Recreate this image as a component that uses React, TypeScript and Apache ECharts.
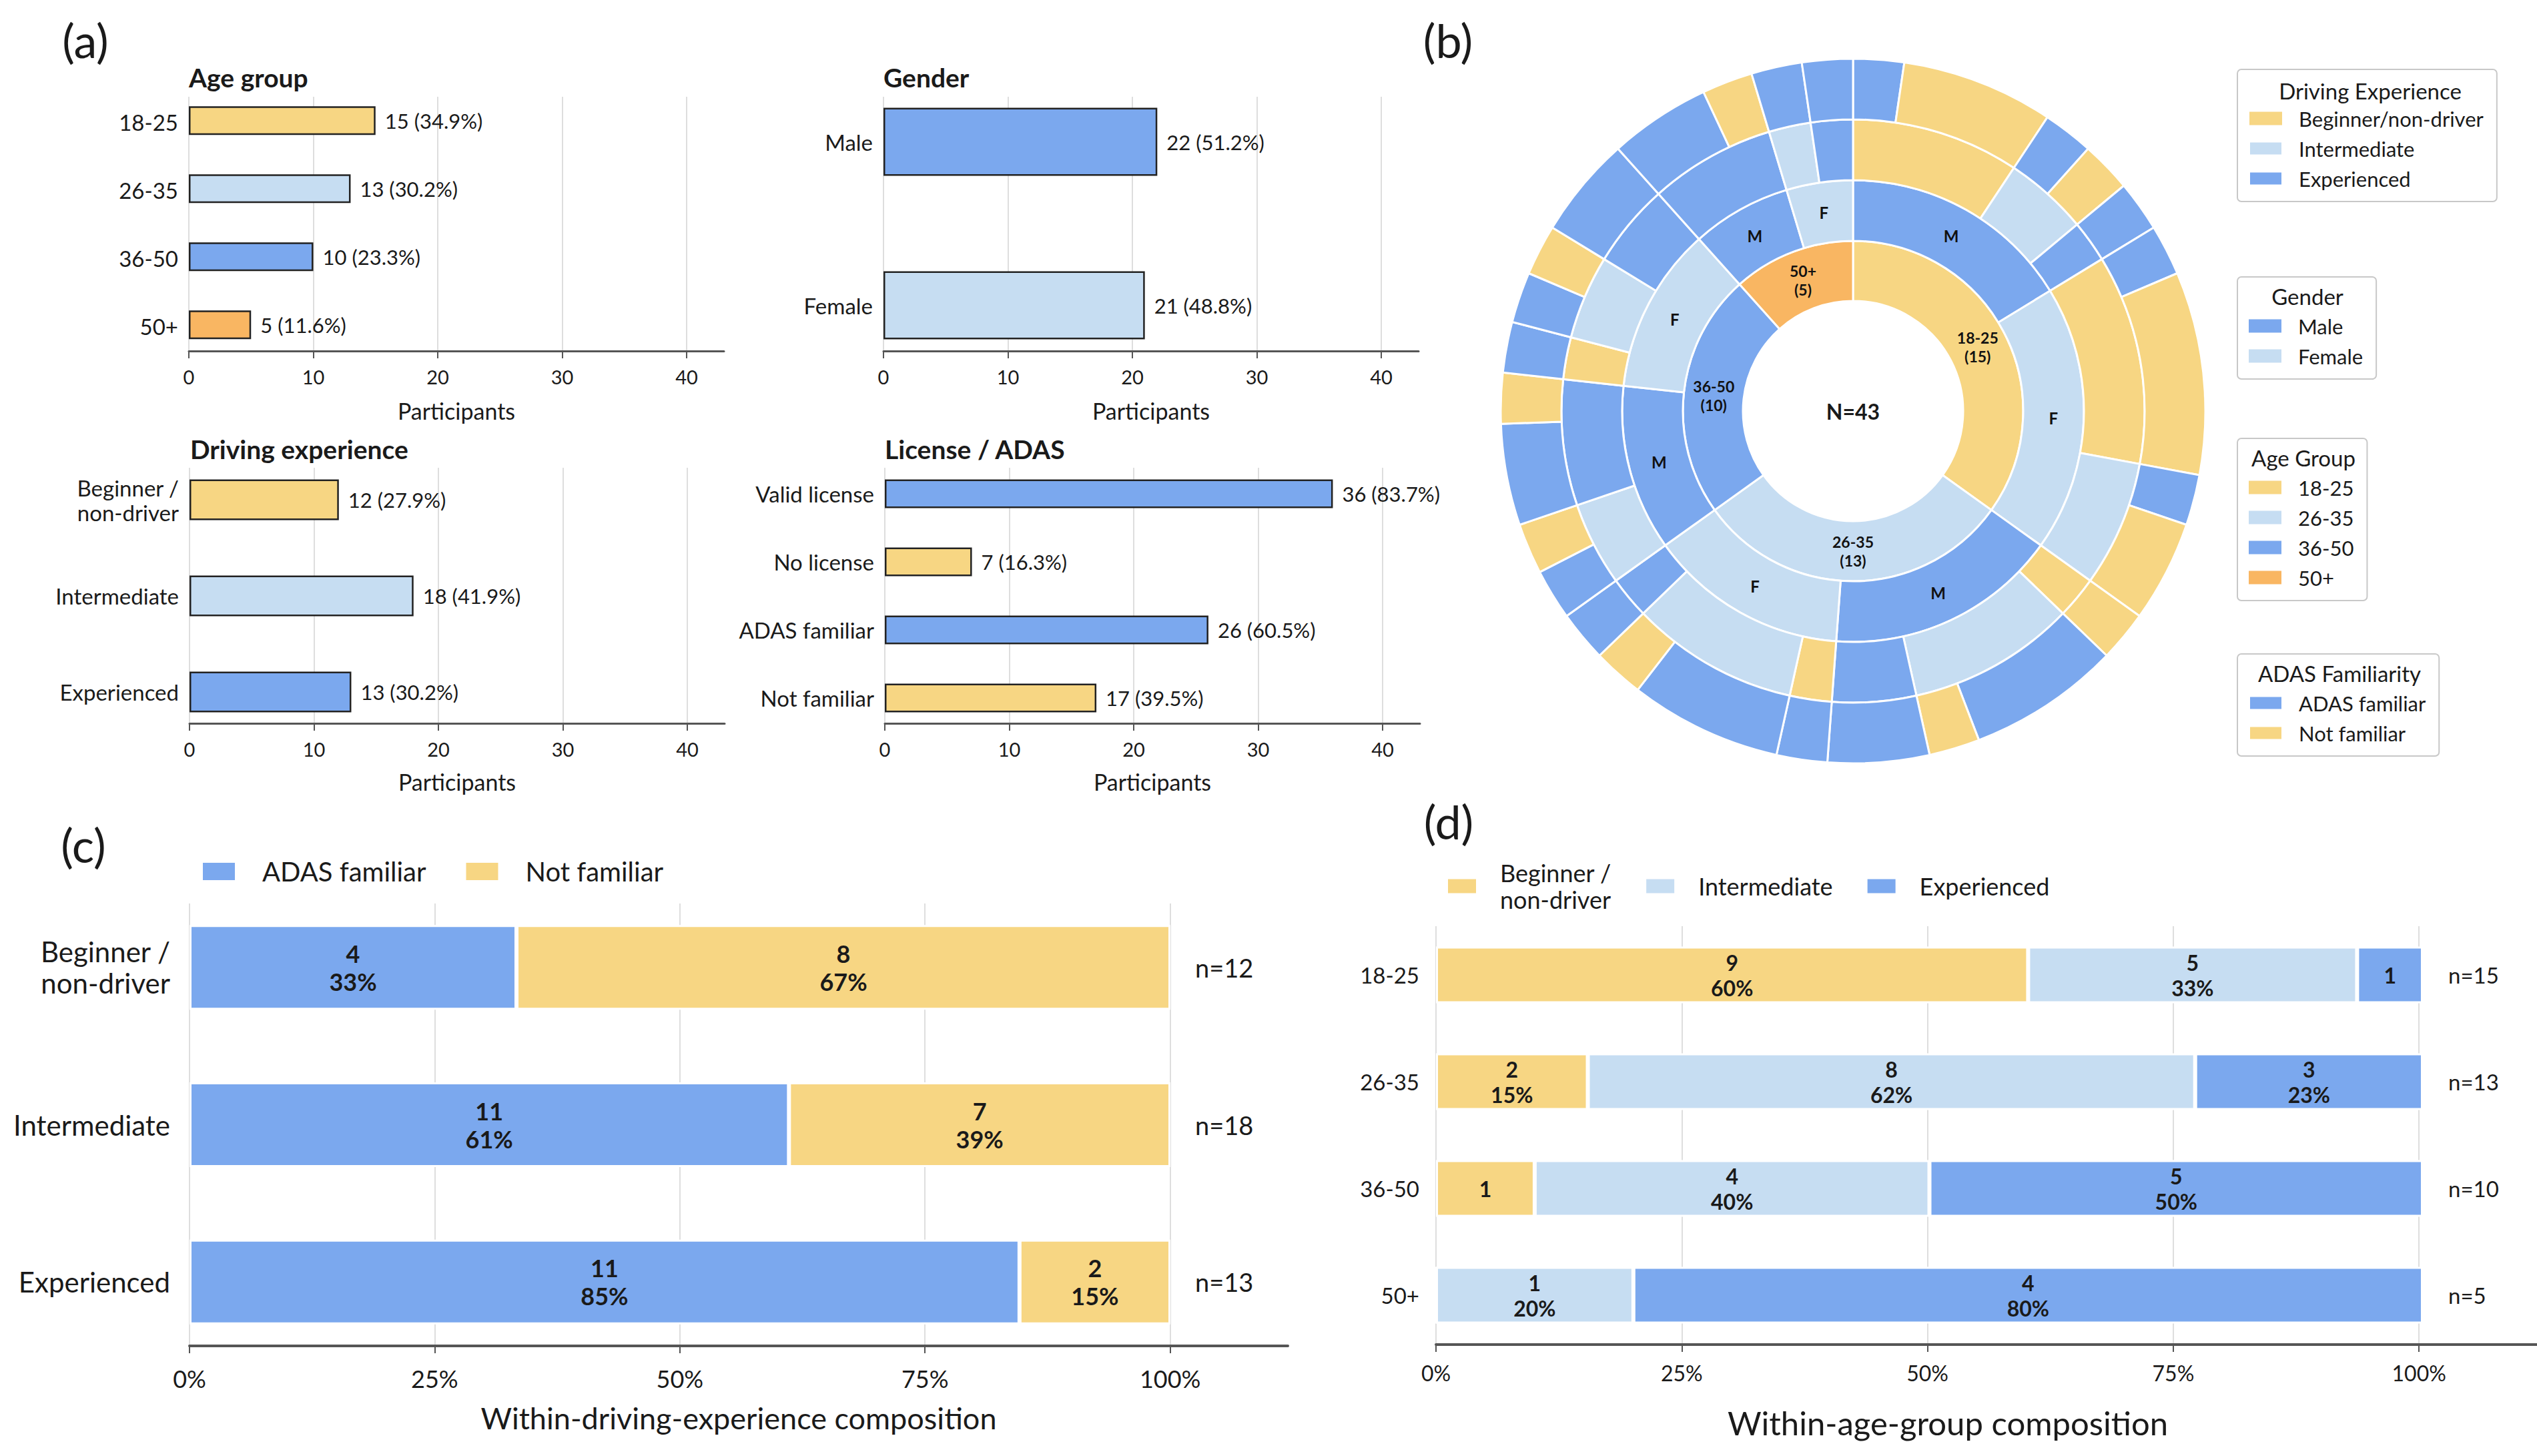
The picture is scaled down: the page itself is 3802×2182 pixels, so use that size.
import React, { useEffect, useRef } from 'react';
import * as echarts from 'echarts';

const W = 3802;
const H = 2182;
const FONT = 'Lato';
const INK = '#1a1a1a';

const C_YELLOW = '#F7D683';
const C_LIGHT = '#C6DDF2';
const C_BLUE = '#7BA8EE';
const C_ORANGE = '#F9B662';

// ---------- (a) ----------
const N_TOTAL = 43;
const ageLabels = ['18-25', '26-35', '36-50', '50+'];
const ageCounts = [15, 13, 10, 5];
const ageColors = [C_YELLOW, C_LIGHT, C_BLUE, C_ORANGE];
const genderLabels = ['Male', 'Female'];
const genderCounts = [22, 21];
const genderColors = [C_BLUE, C_LIGHT];
const expLabels = ['Beginner /\nnon-driver', 'Intermediate', 'Experienced'];
const expCounts = [12, 18, 13];
const expColors = [C_YELLOW, C_LIGHT, C_BLUE];
const licenseLabels = ['Valid license', 'No license', 'ADAS familiar', 'Not familiar'];
const licenseCounts = [36, 7, 26, 17];
const licenseColors = [C_BLUE, C_YELLOW, C_BLUE, C_YELLOW];
const countTicks = [0, 10, 20, 30, 40];

// ---------- (b) sunburst ----------
const genderCodes = ['M', 'F'];
const sunExpNames = ['Beginner/non-driver', 'Intermediate', 'Experienced'];
// [age][gender][experience]
const adasFamiliarCells = [
  [[1, 1, 1], [1, 1, 0]],
  [[0, 3, 2], [1, 3, 1]],
  [[0, 1, 2], [1, 1, 2]],
  [[0, 0, 2], [0, 1, 1]],
];
const adasNotCells = [
  [[3, 1, 0], [4, 2, 0]],
  [[1, 1, 0], [0, 1, 0]],
  [[0, 1, 1], [0, 1, 0]],
  [[0, 0, 1], [0, 0, 0]],
];

// ---------- (c) ----------
const compExpCats = ['Beginner /\nnon-driver', 'Intermediate', 'Experienced'];
const adasFamiliarByExp = [4, 11, 11];
const adasNotByExp = [8, 7, 2];

// ---------- (d) ----------
const compAgeCats = ['18-25', '26-35', '36-50', '50+'];
const beginnerByAge = [9, 2, 1, 0];
const intermediateByAge = [5, 8, 4, 1];
const experiencedByAge = [1, 3, 5, 4];
const pctTicks = [0, 25, 50, 75, 100];

const SUN_CENTER = [2777, 616];

function lineAxis(gi: number, max: number, interval: number, ticks: number[], fmt: (v: number) => string,
  name: string, nameGap: number, fs: number, nfs: number, lm: number, lw: number, nSplit: number, namePad: number[] = [0, 0, 0, 0]) {
  const colors: string[] = [];
  for (let i = 0; i < nSplit; i++) colors.push('#dedede');
  colors.push('rgba(0,0,0,0)');
  return {
    type: 'value', gridIndex: gi, min: 0, max, interval,
    axisLine: { show: true, onZero: false, lineStyle: { color: '#555', width: lw } },
    axisTick: { show: true, customValues: ticks, length: 11, lineStyle: { color: '#555', width: 2 } },
    axisLabel: { customValues: ticks, formatter: fmt, fontSize: fs, margin: lm, color: INK, fontFamily: FONT },
    splitLine: { show: true, lineStyle: { color: colors, width: 2 } },
    name, nameLocation: 'middle', nameGap,
    nameTextStyle: { fontSize: nfs, color: INK, fontFamily: FONT, padding: namePad },
  };
}

function hiddenX(gi: number, max: number) {
  return { type: 'value', gridIndex: gi, min: 0, max, show: false };
}

function hiddenY(gi: number) {
  return { type: 'value', gridIndex: gi, show: false };
}

function catY(gi: number, data: string[], fs: number, lh: number, margin: number, position = 'left') {
  return {
    type: 'category', gridIndex: gi, data, inverse: true, position,
    axisLine: { show: false }, axisTick: { show: false }, splitLine: { show: false },
    axisLabel: { fontSize: fs, lineHeight: lh, margin, color: INK, fontFamily: FONT, align: position === 'right' ? 'left' : 'right' },
  };
}

function countBar(gi: number, counts: number[], colors: string[], barWidth: number) {
  return {
    type: 'bar', name: 'count' + gi, xAxisIndex: gi, yAxisIndex: gi, barWidth,
    data: counts.map((v, i) => ({ value: v, itemStyle: { color: colors[i] } })),
    itemStyle: { borderColor: '#222', borderWidth: 2.5 },
    label: {
      show: true, position: 'right', distance: 14, fontSize: 31, color: INK, fontFamily: FONT,
      formatter: (p: any) => `${p.value} (${(p.value / N_TOTAL * 100).toFixed(1)}%)`,
    },
  };
}

function compBar(name: string, gi: number, yi: number, counts: number[], totals: number[], color: string,
  barWidth: number, fs: number, lh: number, stack: string) {
  return {
    type: 'bar', name, stack, xAxisIndex: gi, yAxisIndex: yi, barWidth,
    data: counts.map((v, i) => (v / totals[i]) * 100),
    itemStyle: { color, borderColor: '#fff', borderWidth: 3 },
    label: {
      show: true, position: 'inside', fontSize: fs, lineHeight: lh, fontWeight: 'bold', color: INK, fontFamily: FONT,
      formatter: (p: any) => {
        const c = counts[p.dataIndex];
        if (c === 0) return '';
        const pct = (c / totals[p.dataIndex]) * 100;
        return pct < 12 ? `${c}` : `${c}\n${Math.round(pct)}%`;
      },
    },
  };
}

function buildSunData() {
  return ageLabels.map((age, a) => ({
    name: age,
    itemStyle: { color: ageColors[a] },
    children: genderCodes.map((g, gi) => ({
      name: g,
      itemStyle: { color: genderColors[gi] },
      children: sunExpNames
        .map((e, ei) => {
          const fam = adasFamiliarCells[a][gi][ei];
          const not = adasNotCells[a][gi][ei];
          if (fam + not === 0) return null;
          const kids: any[] = [];
          if (fam > 0) kids.push({ name: 'ADAS familiar', value: fam, itemStyle: { color: C_BLUE } });
          if (not > 0) kids.push({ name: 'Not familiar', value: not, itemStyle: { color: C_YELLOW } });
          return { name: e, itemStyle: { color: expColors[ei] }, children: kids };
        })
        .filter(Boolean),
    })),
  }));
}

function text(t: string, x: number, y: number, fs: number, bold = false, align = 'left') {
  return {
    type: 'text', x, y, z: 100,
    style: {
      text: t, fontSize: fs, fontFamily: FONT, fontWeight: bold ? 'bold' : 'normal', fill: INK,
      textAlign: align, textVerticalAlign: 'middle',
    },
  };
}

function sideLegend(top: number, data: string[]) {
  return {
    orient: 'vertical', left: 3353, top, padding: [58, 20, 19, 17],
    borderColor: '#c8c8c8', borderWidth: 2, borderRadius: 6,
    itemWidth: 49, itemHeight: 20, itemGap: 14, icon: 'rect', selectedMode: false,
    data,
    textStyle: { fontSize: 31, lineHeight: 30, padding: [0, 0, 0, 20], color: INK, fontFamily: FONT },
  };
}

function buildOption() {
  const fmtCount = (v: number) => String(v);
  const fmtPct = (v: number) => `${v}%`;
  const compExpTotals = adasFamiliarByExp.map((v, i) => v + adasNotByExp[i]);
  const compAgeTotals = beginnerByAge.map((v, i) => v + intermediateByAge[i] + experiencedByAge[i]);

  const grid = [
    { left: 283, top: 145, width: 802, height: 381 },
    { left: 283, top: 132, width: 802, height: 408 },
    { left: 1324, top: 145, width: 802, height: 381 },
    { left: 1324, top: 90, width: 802, height: 490 },
    { left: 284, top: 701, width: 802, height: 383 },
    { left: 284, top: 677, width: 802, height: 432 },
    { left: 1326, top: 701, width: 802, height: 383 },
    { left: 1326, top: 689, width: 802, height: 408 },
    { left: 284, top: 1354, width: 1646, height: 663 },
    { left: 284, top: 1332, width: 1470, height: 707 },
    { left: 2152, top: 1388, width: 1656, height: 627 },
    { left: 2152, top: 1381, width: 1479, height: 640 },
  ];

  const xAxis = [
    lineAxis(0, N_TOTAL, 10, countTicks, fmtCount, 'Participants', 72, 29, 34, 24, 3, 5),
    hiddenX(1, N_TOTAL),
    lineAxis(2, N_TOTAL, 10, countTicks, fmtCount, 'Participants', 72, 29, 34, 24, 3, 5),
    hiddenX(3, N_TOTAL),
    lineAxis(4, N_TOTAL, 10, countTicks, fmtCount, 'Participants', 70, 29, 34, 24, 3, 5),
    hiddenX(5, N_TOTAL),
    lineAxis(6, N_TOTAL, 10, countTicks, fmtCount, 'Participants', 70, 29, 34, 24, 3, 5),
    hiddenX(7, N_TOTAL),
    lineAxis(8, 112, 25, pctTicks, fmtPct, 'Within-driving-experience composition', 85, 36, 45, 31, 4, 5),
    hiddenX(9, 100),
    lineAxis(10, 112, 25, pctTicks, fmtPct, 'Within-age-group composition', 92, 32, 49, 26, 4, 5, [0, 116, 0, 0]),
    hiddenX(11, 100),
  ];

  const yAxis = [
    hiddenY(0),
    catY(1, ageLabels, 33, 36, 16),
    hiddenY(2),
    catY(3, genderLabels, 33, 36, 16),
    hiddenY(4),
    catY(5, expLabels, 33, 37, 16),
    hiddenY(6),
    catY(7, licenseLabels, 33, 36, 16),
    hiddenY(8),
    catY(9, compExpCats, 42, 47, 29),
    hiddenY(10),
    catY(11, compAgeCats, 33, 38, 25),
    catY(9, compExpTotals.map((n) => `n=${n}`), 38, 44, 37, 'right'),
    catY(11, compAgeTotals.map((n) => `n=${n}`), 33, 38, 38, 'right'),
  ];

  const series: any[] = [
    countBar(1, ageCounts, ageColors, 43),
    countBar(3, genderCounts, genderColors, 102),
    countBar(5, expCounts, expColors, 61),
    countBar(7, licenseCounts, licenseColors, 43),
    compBar('ADAS familiar', 9, 9, adasFamiliarByExp, compExpTotals, C_BLUE, 127, 36, 42, 'c'),
    compBar('Not familiar', 9, 9, adasNotByExp, compExpTotals, C_YELLOW, 127, 36, 42, 'c'),
    compBar('Beginner /\nnon-driver', 11, 11, beginnerByAge, compAgeTotals, C_YELLOW, 85, 32, 38, 'd'),
    compBar('Intermediate', 11, 11, intermediateByAge, compAgeTotals, C_LIGHT, 85, 32, 38, 'd'),
    compBar('Experienced', 11, 11, experiencedByAge, compAgeTotals, C_BLUE, 85, 32, 38, 'd'),
    {
      type: 'sunburst',
      center: SUN_CENTER,
      radius: [165, 528],
      sort: null,
      startAngle: 90,
      nodeClick: false,
      emphasis: { disabled: true },
      itemStyle: { borderColor: '#fff', borderWidth: 3 },
      data: buildSunData(),
      levels: [
        {},
        {
          r0: 165, r: 255,
          label: {
            rotate: 0, fontSize: 23, lineHeight: 28, fontWeight: 'bold', color: '#111', fontFamily: FONT,
            formatter: (p: any) => `${p.name}\n(${p.value})`,
          },
        },
        { r0: 255, r: 346, label: { rotate: 0, fontSize: 24, fontWeight: 'bold', color: '#111', fontFamily: FONT, formatter: '{b}' } },
        { r0: 346, r: 437, label: { show: false } },
        { r0: 437, r: 528, label: { show: false } },
      ],
    },
  ];

  // legend-only swatches for panel (b)
  const dummy = [
    ['Beginner/non-driver', C_YELLOW],
    ['Male', C_BLUE],
    ['Female', C_LIGHT],
    ['18-25', C_YELLOW],
    ['26-35', C_LIGHT],
    ['36-50', C_BLUE],
    ['50+', C_ORANGE],
  ];
  dummy.forEach(([n, c]) => {
    series.push({ type: 'bar', name: n, xAxisIndex: 1, yAxisIndex: 1, data: [], itemStyle: { color: c } });
  });

  const legend = [
    {
      orient: 'horizontal', left: 302, top: 1284, padding: 0, icon: 'rect', selectedMode: false,
      itemWidth: 50, itemHeight: 28, itemGap: 58,
      data: ['ADAS familiar', 'Not familiar'],
      textStyle: { fontSize: 40, lineHeight: 44, padding: [0, 0, 0, 35], color: INK, fontFamily: FONT },
    },
    {
      orient: 'horizontal', left: 2168, top: 1288, padding: 0, icon: 'rect', selectedMode: false,
      itemWidth: 44, itemHeight: 23, itemGap: 50,
      data: ['Beginner /\nnon-driver', 'Intermediate', 'Experienced'],
      textStyle: { fontSize: 36, lineHeight: 40, padding: [0, 0, 0, 30], color: INK, fontFamily: FONT },
    },
    sideLegend(104, ['Beginner/non-driver', 'Intermediate', 'Experienced']),
    sideLegend(415, ['Male', 'Female']),
    sideLegend(657, ['18-25', '26-35', '36-50', '50+']),
    sideLegend(980, ['ADAS familiar', 'Not familiar']),
  ];

  const graphic = [
    text('(a)', 128, 60, 70, false, 'center'),
    text('(b)', 2170, 60, 70, false, 'center'),
    text('(c)', 125, 1266, 70, false, 'center'),
    text('(d)', 2171, 1231, 70, false, 'center'),
    text('Age group', 283, 116, 39, true),
    text('Gender', 1324, 116, 39, true),
    text('Driving experience', 285, 673, 39, true),
    text('License / ADAS', 1326, 673, 39, true),
    text('N=43', SUN_CENTER[0], SUN_CENTER[1], 32, true, 'center'),
    text('Driving Experience', 3552, 136, 33, false, 'center'),
    text('Gender', 3458, 444, 33, false, 'center'),
    text('Age Group', 3452, 686, 33, false, 'center'),
    text('ADAS Familiarity', 3506, 1009, 33, false, 'center'),
  ];

  return {
    animation: false,
    backgroundColor: '#ffffff',
    textStyle: { fontFamily: FONT, color: INK },
    grid,
    xAxis,
    yAxis,
    series,
    legend,
    graphic,
  };
}

export default function App() {
  const ref = useRef<HTMLDivElement>(null);
  useEffect(() => {
    document.body.style.margin = '0';
    const chart = echarts.init(ref.current as HTMLDivElement, null, { renderer: 'svg', width: W, height: H });
    chart.setOption(buildOption() as any);
    return () => chart.dispose();
  }, []);
  return (
    <div
      ref={ref}
      style={{ position: 'absolute', left: 0, top: 0, width: W, height: H, background: '#fff' }}
    />
  );
}
